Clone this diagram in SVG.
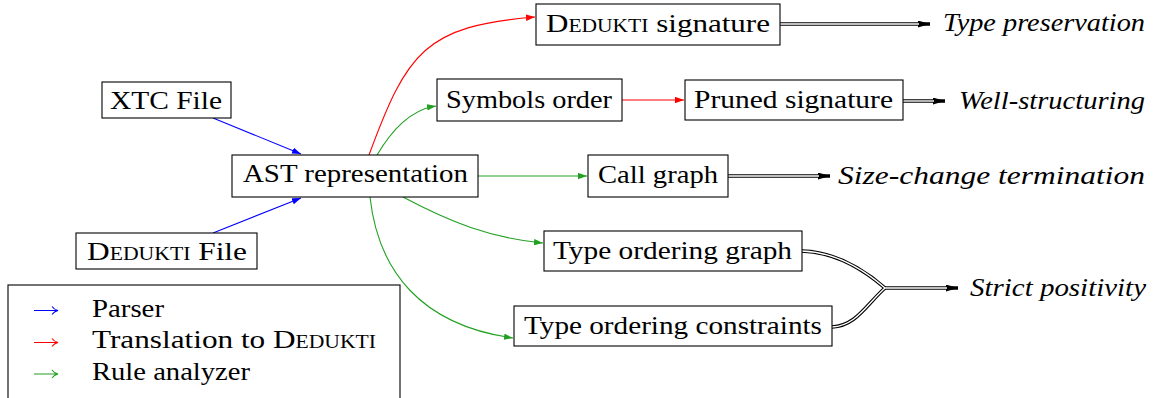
<svg xmlns="http://www.w3.org/2000/svg" width="1159" height="398" viewBox="0 0 1159 398">
<style>
.box{fill:#fff;stroke:#000;stroke-width:1.1}
text{font-family:'Liberation Serif','DejaVu Serif',serif;font-size:26px;fill:#000}
.it{font-style:italic}
.sc{font-variant:small-caps}
.blue{stroke:#0000ff;stroke-width:1.1;fill:none}
.red{stroke:#ff0000;stroke-width:1.1;fill:none}
.green{stroke:#22a022;stroke-width:1.1;fill:none}
.dbo{stroke:#000;stroke-width:3.6;fill:none}
.dbi{stroke:#fff;stroke-width:1.4;fill:none}
</style>
<defs>
<marker id="ab" markerUnits="userSpaceOnUse" markerWidth="10" markerHeight="7" refX="9" refY="3.2" orient="auto"><path d="M0,0 L9,3.2 L0,6.4 z" fill="#0000ff"/></marker>
<marker id="ar" markerUnits="userSpaceOnUse" markerWidth="10" markerHeight="7" refX="9" refY="3.2" orient="auto"><path d="M0,0 L9,3.2 L0,6.4 z" fill="#ff0000"/></marker>
<marker id="ag" markerUnits="userSpaceOnUse" markerWidth="10" markerHeight="7" refX="9" refY="3.2" orient="auto"><path d="M0,0 L9,3.2 L0,6.4 z" fill="#22a022"/></marker>
<marker id="ak" markerUnits="userSpaceOnUse" markerWidth="13" markerHeight="8" refX="12" refY="3.5" orient="auto"><path d="M0,0 L12,3.5 L0,7 z" fill="#000"/></marker>
</defs>

<g id="connectors">
<path class="blue" d="M213,118 L301,154" marker-end="url(#ab)"/>
<path class="blue" d="M213,233 L301,198" marker-end="url(#ab)"/>
<path class="red" d="M369,155 C407,52 425,26 535,17" marker-end="url(#ar)"/>
<path class="green" d="M377,155 C392,130 410,110 436,106" marker-end="url(#ag)"/>
<path class="green" d="M478,176 L587,176" marker-end="url(#ag)"/>
<path class="green" d="M403,197 C450,222 490,238 543,243" marker-end="url(#ag)"/>
<path class="green" d="M370,197 C378,270 420,325 513,338" marker-end="url(#ag)"/>
<path class="red" d="M622,100 L684,100" marker-end="url(#ar)"/>
<path class="dbo" d="M780,24 H930" marker-end="url(#ak)"/>
<path class="dbi" d="M780,24 H919"/>
<path class="dbo" d="M903,101 H945" marker-end="url(#ak)"/>
<path class="dbi" d="M903,101 H934"/>
<path class="dbo" d="M728,176 H830" marker-end="url(#ak)"/>
<path class="dbi" d="M728,176 H819"/>
<path class="dbo" d="M802,251 C835,252 862,268 885,288"/>
<path class="dbo" d="M832,327 C856,326 866,305 885,288"/>
<path class="dbo" d="M885,288 H958" marker-end="url(#ak)"/>
<path class="dbi" d="M802,251 C835,252 862,268 885,288"/>
<path class="dbi" d="M832,327 C856,326 866,305 885,288"/>
<path class="dbi" d="M885,288 H947"/>
</g>

<g id="xtc"><rect class="box" x="102" y="82" width="129" height="36"/><text x="110" y="109" textLength="112" lengthAdjust="spacingAndGlyphs">XTC File</text></g>
<g id="ded-file"><rect class="box" x="76" y="233" width="181" height="36"/><text x="87" y="260" textLength="160" lengthAdjust="spacingAndGlyphs"><tspan class="sc">Dedukti</tspan> File</text></g>
<g id="ast"><rect class="box" x="232" y="155" width="246" height="42"/><text x="243" y="182" textLength="225" lengthAdjust="spacingAndGlyphs">AST representation</text></g>
<g id="ded-sig"><rect class="box" x="536" y="4" width="244" height="41"/><text x="546" y="32" textLength="224" lengthAdjust="spacingAndGlyphs"><tspan class="sc">Dedukti</tspan> signature</text></g>
<g id="symbols"><rect class="box" x="437" y="79" width="185" height="42"/><text x="446" y="108" textLength="166" lengthAdjust="spacingAndGlyphs">Symbols order</text></g>
<g id="pruned"><rect class="box" x="685" y="80" width="218" height="40"/><text x="694" y="108" textLength="199" lengthAdjust="spacingAndGlyphs">Pruned signature</text></g>
<g id="callgraph"><rect class="box" x="588" y="155" width="140" height="42"/><text x="598" y="183" textLength="120" lengthAdjust="spacingAndGlyphs">Call graph</text></g>
<g id="tog"><rect class="box" x="544" y="231" width="258" height="40"/><text x="553" y="259" textLength="239" lengthAdjust="spacingAndGlyphs">Type ordering graph</text></g>
<g id="toc"><rect class="box" x="514" y="306" width="318" height="40"/><text x="524" y="334" textLength="298" lengthAdjust="spacingAndGlyphs">Type ordering constraints</text></g>

<g id="type-pres"><text class="it" x="943" y="31" textLength="202" lengthAdjust="spacingAndGlyphs">Type preservation</text></g>
<g id="well-struct"><text class="it" x="959" y="109" textLength="186" lengthAdjust="spacingAndGlyphs">Well-structuring</text></g>
<g id="size-change"><text class="it" x="838" y="184" textLength="307" lengthAdjust="spacingAndGlyphs">Size-change termination</text></g>
<g id="strict-pos"><text class="it" x="970" y="296" textLength="176" lengthAdjust="spacingAndGlyphs">Strict positivity</text></g>

<g id="legend">
<rect x="8" y="285" width="392" height="130" fill="none" stroke="#000" stroke-width="1.1"/>
<path d="M34,310.5 H57 M52,306.5 Q54,309.5 58,310.5 Q54,311.5 52,314.5" stroke="#0000ff" stroke-width="1.1" fill="none"/>
<path d="M34,342.5 H57 M52,338.5 Q54,341.5 58,342.5 Q54,343.5 52,346.5" stroke="#ff0000" stroke-width="1.1" fill="none"/>
<path d="M34,374 H57 M52,370 Q54,373 58,374 Q54,375 52,378" stroke="#22a022" stroke-width="1.1" fill="none"/>
<text x="92" y="317" textLength="72" lengthAdjust="spacingAndGlyphs">Parser</text>
<text x="92" y="348" textLength="284" lengthAdjust="spacingAndGlyphs">Translation to <tspan class="sc">Dedukti</tspan></text>
<text x="92" y="380" textLength="158" lengthAdjust="spacingAndGlyphs">Rule analyzer</text>
</g>
</svg>
